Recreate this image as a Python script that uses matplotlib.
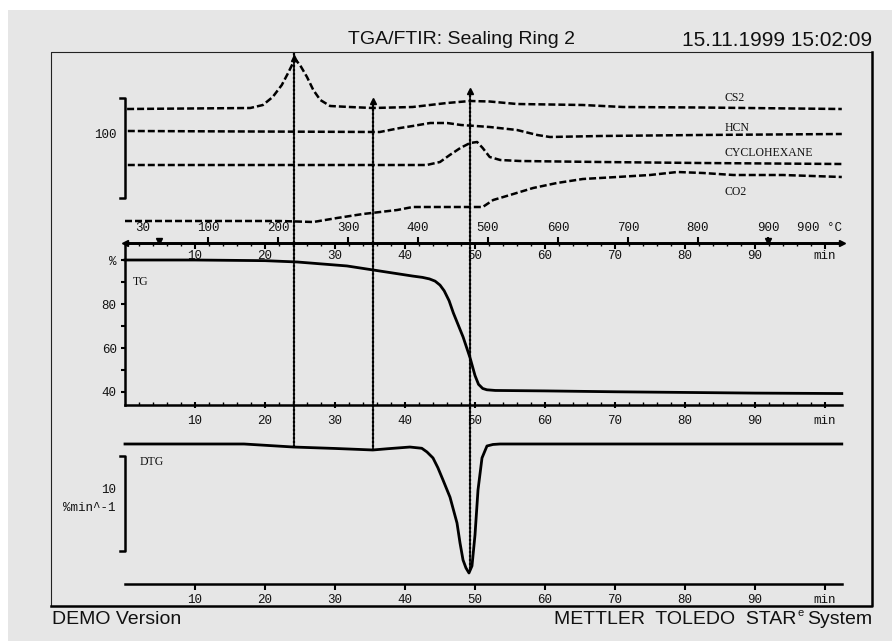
import matplotlib
matplotlib.use('Agg')
import matplotlib.pyplot as plt
from matplotlib.patches import Rectangle, ConnectionPatch
from matplotlib.lines import Line2D
import numpy as np

# ---------------- data ----------------
T_END = 102.43                      # min, right end of the time axes

# gas traces (FTIR intensity, arbitrary units; scale bar = 100)
cs2_t = [0.3, 17.9, 19.7, 21.1, 22.4, 23.3, 24.0, 24.4, 25.0, 26.0, 26.9, 27.9, 29.3, 32.1, 35.4, 41.1, 46.0, 49.3, 52.1, 56.0, 65.4, 71.1, 82.1, 102.4]
cs2_v = [134, 135, 138, 146, 158, 170, 180, 183, 178, 166, 153, 143, 137, 136, 135, 136, 140, 142, 141.5, 139, 138, 136, 135.5, 134]

hcn_t = [0.4, 36.4, 39.3, 41.1, 43.6, 46.0, 48.0, 50.1, 52.1, 56.0, 58.9, 60.7, 67.9, 82.1, 102.4]
hcn_v = [112, 111, 115, 117, 120, 120, 118, 117, 116, 113, 108, 106, 107, 108, 109]

cyc_t = [0.4, 43.1, 45.0, 46.4, 47.9, 49.3, 50.3, 51.1, 52.1, 53.6, 56.4, 67.9, 82.1, 102.4]
cyc_v = [78, 78, 81, 88, 95, 100, 101, 95, 86, 83, 82, 81, 80, 79]

co2_t = [0.0, 22.1, 26.9, 30.3, 34.0, 38.9, 41.1, 46.0, 51.1, 52.6, 55.0, 58.3, 61.7, 65.4, 70.3, 75.0, 78.9, 82.6, 86.9, 94.0, 102.4]
co2_v = [22, 22, 21, 25, 29, 33, 36, 36, 36, 43, 48, 55, 60, 64, 66, 68, 71, 70, 68, 68, 66]

gas_names = ['CS2', 'HCN', 'CYCLOHEXANE', 'CO2']
gas_label_v = [145, 115, 90, 51]

# TG curve (%)
tg_t = [0, 10, 20, 24.6, 31.7, 36.4, 41.1, 42.5, 43.5, 44.3, 45.0, 45.6, 46.3, 46.9, 47.6, 48.3, 49.3, 50.0, 50.5, 51.1, 51.7, 52.9, 60, 70, 80, 90, 102.4]
tg_v = [100, 100, 99.7, 99.1, 97.3, 95.0, 92.7, 92.1, 91.4, 90.4, 88.6, 86, 81.5, 76, 70.5, 65, 55.5, 47.5, 43.5, 41.6, 41.0, 40.7, 40.5, 40.1, 39.8, 39.5, 39.3]

# DTG curve (%/min)
dtg_t = [0, 17, 24.1, 30, 35.4, 37.5, 40.7, 42.4, 43.14, 44.0, 44.7, 45.43, 46.43, 47.43, 47.86, 48.29, 48.71, 49.14, 49.57, 50.0, 50.43, 51.0, 51.71, 52.57, 53.57, 102.4]
dtg_v = [0, 0, -0.32, -0.47, -0.63, -0.5, -0.32, -0.45, -0.84, -1.47, -2.5, -3.79, -5.6, -8.32, -10.42, -12.21, -13.05, -13.58, -12.84, -9.58, -4.84, -1.47, -0.21, -0.05, 0, 0]

# event markers (vertical dotted lines)
ev_t = [24.14, 35.43, 49.29]
ev_top = [190, 142, 152]
ev_arrow = [185, 142, 152]
ev_bottom = [-0.21, -0.53, -13.3]

# temperature programme: T = 10*t - 18.5
temp_ticks = [100, 200, 300, 400, 500, 600, 700, 800, 900]
temp_start, temp_end = 30, 900

time_ticks = [10, 20, 30, 40, 50, 60, 70, 80, 90, 100]
time_labels = ['10', '20', '30', '40', '50', '60', '70', '80', '90', 'min']
tg_ticks = [40, 60, 80, 100]
tg_labels = ['40', '60', '80', '%']

title = 'TGA/FTIR: Sealing Ring 2'
stamp = '15.11.1999 15:02:09'

# ---------------- layout helpers ----------------
W, H = 892, 641
BG = '#e6e6e6'
INK = '#111111'


def fx(x):
    return x / W


def fy(y):
    return 1 - y / H


def rect(l, t, r, b):
    return [fx(l), fy(b), (r - l) / W, (b - t) / H]


def t2T(t):
    return 10 * np.asarray(t) - 18.5


def T2t(T):
    return (np.asarray(T) + 18.5) / 10


plt.rcParams['font.family'] = ['Liberation Mono', 'DejaVu Sans']
plt.rcParams['font.size'] = 9

fig = plt.figure(figsize=(W / 100, H / 100), dpi=100)
fig.patch.set_facecolor('white')
fig.add_artist(Rectangle((fx(8), 0), 1 - fx(8), fy(10), transform=fig.transFigure,
                         facecolor=BG, edgecolor='none', zorder=-10))

# frame
fig.add_artist(Line2D([fx(51), fx(51), fx(872)], [fy(606), fy(52), fy(52)],
                      transform=fig.transFigure, lw=0.8, color='#222222'))
fig.add_artist(Line2D([fx(872), fx(872), fx(51)], [fy(52), fy(606), fy(606)],
                      transform=fig.transFigure, lw=1.8, color='black'))

ax_f = fig.add_axes(rect(125, 52, 842, 243))
ax_tg = fig.add_axes(rect(125, 243, 842, 405))
ax_d = fig.add_axes(rect(125, 425, 842, 584))
for ax in (ax_f, ax_tg, ax_d):
    ax.set_facecolor('none')
    ax.set_xlim(0, T_END)

# ---------------- FTIR panel ----------------
ax_f.set_ylim(0, 191)
ax_f.axis('off')
for tt, vv in [(cs2_t, cs2_v), (hcn_t, hcn_v), (cyc_t, cyc_v), (co2_t, co2_v)]:
    ax_f.plot(tt, vv, color='black', lw=1.8, dashes=(2.8, 1.2), clip_on=False)
for name, v in zip(gas_names, gas_label_v):
    ax_f.text(85.6, v, name, ha='left', va='center', family='Liberation Serif',
              size=8.5, color=INK)
# scale bar
ax_f.plot([-0.7, 0, 0, -0.7], [45, 45, 145, 145], color='black', lw=1.8, clip_on=False)
ax_f.text(-1.14, 108, '100', ha='right', va='center', color=INK)
# temperature labels
for T in temp_ticks:
    ax_f.text(T2t(T), 15, str(T), ha='center', va='center', color=INK)
ax_f.text(1.43, 15, str(temp_start), ha='left', va='center', color=INK)
ax_f.text(T_END, 15, f'{temp_end} °C', ha='right', va='center', color=INK)
ax_f.plot([T2t(temp_start), T2t(temp_end)], [2.5, 2.5], ls='none', marker='v',
          ms=5, color='black', clip_on=False)

# ---------------- TG panel ----------------
ax_tg.set_ylim(34.09, 107.73)
ax_tg.spines['right'].set_visible(False)
for s in ('left', 'top', 'bottom'):
    ax_tg.spines[s].set_linewidth(1.8)
ax_tg.plot(tg_t, tg_v, color='black', lw=2.0, clip_on=False)
ax_tg.set_xticks(time_ticks, time_labels)
ax_tg.set_xticks(np.arange(2, 102, 2), minor=True)
ax_tg.tick_params(axis='x', which='major', direction='inout', length=5, width=1.5,
                  pad=5, labelcolor=INK)
ax_tg.tick_params(axis='x', which='minor', direction='in', length=2, width=1)
ax_tg.set_yticks(tg_ticks, tg_labels)
ax_tg.set_yticks([50, 70, 90], minor=True)
ax_tg.tick_params(axis='y', which='both', direction='out', length=3, width=1.5,
                  pad=3, labelcolor=INK)
sec = ax_tg.secondary_xaxis('top')
sec.set_xticks(time_ticks, [''] * len(time_ticks))
sec.set_xticks(np.arange(2, 102, 2), minor=True)
sec.tick_params(which='major', direction='in', length=4, width=1.5)
sec.tick_params(which='minor', direction='in', length=2, width=1)
sec.spines['top'].set_linewidth(1.8)
secT = ax_tg.secondary_xaxis('top', functions=(t2T, T2t))
secT.set_xticks(temp_ticks, [''] * len(temp_ticks))
secT.tick_params(which='major', direction='out', length=4, width=1.5)
secT.spines['top'].set_linewidth(1.8)
for tk, lab in zip(time_ticks, time_labels):
    ax_tg.text(tk, 101.8, lab, ha='center', va='center', color=INK)
ax_tg.text(1.14, 90, 'TG', ha='left', va='center', family='Liberation Serif',
           size=8.5, color=INK)
ax_tg.plot([0], [107.73], marker='<', ms=5, color='black', clip_on=False)
ax_tg.plot([T_END], [107.73], marker='>', ms=5, color='black', clip_on=False)

# ---------------- DTG panel ----------------
ax_d.set_ylim(-14.74, 2.0)
for s in ('left', 'top', 'right'):
    ax_d.spines[s].set_visible(False)
ax_d.spines['bottom'].set_linewidth(1.8)
ax_d.plot(dtg_t, dtg_v, color='black', lw=2.0, clip_on=False)
ax_d.set_yticks([])
ax_d.set_xticks(time_ticks, time_labels)
ax_d.tick_params(axis='x', direction='out', length=4, width=1.5, pad=3, labelcolor=INK)
ax_d.plot([-0.7, 0, 0, -0.7], [-1.26, -1.26, -11.26, -11.26], color='black', lw=1.8,
          clip_on=False)
ax_d.text(-1.29, -4.84, '10', ha='right', va='center', color=INK)
ax_d.text(-1.29, -6.74, '%min^-1', ha='right', va='center', color=INK)
ax_d.text(2.14, -1.89, 'DTG', ha='left', va='center', family='Liberation Serif',
          size=8.5, color=INK)

# ---------------- event lines ----------------
for t, vt, va, vb in zip(ev_t, ev_top, ev_arrow, ev_bottom):
    con = ConnectionPatch(xyA=(t, vt), coordsA=ax_f.transData,
                          xyB=(t, vb), coordsB=ax_d.transData,
                          color='black', lw=1.6, linestyle=(0, (0.9, 0.9)))
    fig.add_artist(con)
    ax_f.plot([t], [va], marker='^', ms=4.5, color='black', clip_on=False)

# ---------------- header / footer ----------------
fig.text(fx(461), fy(40), title, ha='center', va='center', family='Liberation Sans',
         size=14, color=INK)
fig.text(fx(872), fy(40), stamp, ha='right', va='center', family='Liberation Sans',
         size=15, color=INK)
fig.text(fx(52), fy(619), 'DEMO Version', ha='left', va='center',
         family='Liberation Sans', size=14, color=INK)

renderer = fig.canvas.get_renderer()
t_sys = fig.text(fx(872), fy(619), 'System', ha='right', va='center',
                 family='Liberation Sans', size=14, color=INK)
w_sys = t_sys.get_window_extent(renderer).width
x_e = 872 - w_sys - 3
t_e = fig.text(fx(x_e), fy(613), 'e', ha='right', va='center',
               family='Liberation Sans', size=8, color=INK)
w_e = t_e.get_window_extent(renderer).width
fig.text(fx(x_e - w_e - 1), fy(619), 'METTLER  TOLEDO  STAR', ha='right', va='center',
         family='Liberation Sans', size=14, color=INK)

fig.savefig('out.png', dpi=100, facecolor=fig.get_facecolor())
